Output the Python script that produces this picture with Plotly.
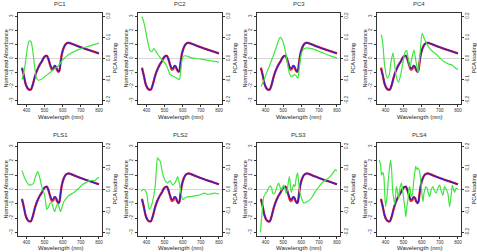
import plotly.graph_objects as go

W, H = 477, 252

titles = ["PC1", "PC2", "PC3", "PC4", "PLS1", "PLS2", "PLS3", "PLS4"]
x_ticks = [400, 500, 600, 700, 800]
left_ticks = [-3, -2, -1, 0, 1, 2, 3]
right_ticks = [-0.2, -0.1, 0.0, 0.1, 0.2]
right_tick_labels = ["-0.2", "-0.1", "0.0", "0.1", "0.2"]

wl_abs = [375, 385, 395, 405, 415, 425, 435, 445, 455, 465, 475, 485, 495, 505, 512, 520, 530, 540,
          548, 555, 562, 570, 577, 582, 588, 595, 605, 615, 625, 635, 650, 675, 700, 725, 750, 775, 800]
abs_blue = [-0.7, -1.2, -1.8, -2.1, -2.22, -2.2, -1.85, -1.35, -0.95, -0.65, -0.4, -0.2, 0.05, 0.18, 0.2,
            0.0, -0.4, -0.7, -0.65, -0.5, -0.55, -0.8, -0.95, -0.85, -0.3, 0.3, 0.75, 1.0, 1.1, 1.12, 1.05,
            0.92, 0.8, 0.68, 0.58, 0.47, 0.36]
abs_red = [-0.65, -1.2, -1.8, -2.1, -2.22, -2.2, -1.85, -1.35, -0.95, -0.65, -0.4, -0.2, 0.05, 0.18, 0.2,
           0.0, -0.45, -0.8, -0.75, -0.55, -0.6, -0.85, -0.95, -0.85, -0.3, 0.3, 0.75, 1.0, 1.1, 1.12, 1.05,
           0.92, 0.8, 0.68, 0.58, 0.47, 0.36]

wl_pc1 = [375, 385, 395, 405, 415, 425, 435, 445, 455, 465, 480, 500, 520, 540, 560, 580, 600, 620, 650, 700, 750, 800]
load_pc1 = [-0.100, -0.067, -0.013, 0.053, 0.083, 0.080, 0.033, -0.040, -0.093, -0.103, -0.100, -0.087,
            -0.073, -0.060, -0.047, -0.030, -0.007, 0.010, 0.027, 0.047, 0.060, 0.073]

wl_pc2 = [375, 385, 395, 405, 418, 430, 440, 450, 460, 470, 480, 490, 500, 510, 520, 530, 545, 560, 575, 582,
          588, 595, 603, 615, 650, 700, 750, 800]
load_pc2 = [0.200, 0.173, 0.133, 0.087, 0.040, 0.033, 0.047, 0.037, 0.023, 0.010, 0.0, -0.010, -0.020, -0.033,
            -0.053, -0.077, -0.083, -0.090, -0.097, -0.100, -0.067, -0.013, 0.010, 0.013, 0.003, -0.003,
            -0.010, -0.017]

wl_pc3 = [375, 390, 405, 420, 435, 450, 465, 475, 485, 495, 505, 515, 525, 535, 545, 555, 565, 575, 582, 590,
          600, 612, 627, 650, 680, 710, 740, 770, 800]
load_pc3 = [-0.133, -0.107, -0.073, -0.040, -0.007, 0.027, 0.063, 0.090, 0.100, 0.087, 0.060, 0.020, -0.033,
            -0.073, -0.087, -0.080, -0.077, -0.087, -0.093, -0.040, 0.020, 0.043, 0.050, 0.048, 0.041, 0.030,
            0.020, 0.010, 0.003]

wl_pc4 = [377, 385, 395, 409, 420, 430, 441, 450, 460, 472, 485, 500, 510, 517, 525, 535, 545, 557, 568, 580,
          590, 602, 612, 622, 640, 660, 680, 700, 720, 735, 750, 765, 780, 800]
load_pc4 = [0.113, 0.073, -0.033, -0.093, -0.080, -0.020, 0.027, -0.027, -0.087, -0.113, -0.073, 0.0, 0.033,
            0.038, 0.0, -0.040, 0.0, 0.040, -0.013, -0.067, 0.013, 0.120, 0.100, 0.080, 0.053, 0.033, 0.020,
            0.003, -0.013, -0.020, -0.027, -0.030, -0.040, -0.053]

wl_pls1 = [375, 390, 405, 418, 437, 450, 462, 472, 484, 495, 503, 512, 522, 531, 540, 548, 556, 564, 572, 580,
           588, 597, 606, 620, 635, 655, 672, 690, 710, 730, 747, 762, 775, 788, 800]
load_pls1 = [0.089, 0.053, 0.030, 0.020, 0.027, 0.060, 0.083, 0.060, 0.013, -0.013, -0.040, -0.093, -0.080,
             -0.063, -0.063, -0.087, -0.103, -0.080, -0.067, -0.080, -0.103, -0.080, -0.057, -0.040, -0.027,
             -0.017, -0.007, 0.007, 0.023, 0.033, 0.040, 0.043, 0.040, 0.050, 0.057]

wl_pls2 = [370, 383, 395, 402, 415, 425, 433, 446, 455, 461, 468, 476, 489, 500, 507, 517, 524, 531, 544, 553,
           563, 572, 581, 590, 600, 610, 618, 632, 646, 665, 683, 700, 720, 738, 757, 775, 794, 800]
load_pls2 = [-0.009, 0.0, -0.007, -0.023, -0.093, -0.080, -0.057, 0.0, 0.100, 0.147, 0.140, 0.130, 0.073,
             0.047, 0.037, 0.030, 0.037, 0.040, 0.020, 0.027, 0.040, 0.060, 0.030, -0.013, -0.047, -0.040,
             -0.037, -0.033, -0.033, -0.030, -0.027, -0.023, -0.017, -0.023, -0.020, -0.017, -0.020, -0.019]

wl_pls3 = [372, 380, 391, 400, 409, 418, 428, 435, 441, 450, 460, 467, 474, 481, 489, 495, 502, 508, 515, 521,
           527, 534, 540, 545, 552, 558, 565, 571, 576, 580, 586, 592, 602, 614, 625, 632, 650, 665, 679, 697,
           716, 735, 753, 772, 791, 800]
load_pls3 = [-0.200, -0.120, -0.033, -0.020, -0.010, 0.007, 0.017, 0.007, -0.017, -0.020, 0.0, 0.020, 0.030,
             0.013, -0.003, 0.007, 0.020, 0.007, -0.017, -0.007, 0.027, 0.060, 0.020, -0.013, 0.007, 0.023,
             0.013, 0.047, 0.067, 0.077, 0.033, -0.010, -0.040, -0.063, -0.060, -0.057, -0.047, -0.030,
             -0.010, 0.010, 0.030, 0.043, 0.053, 0.070, 0.091, 0.087]

wl_pls4 = [365, 372, 378, 385, 391, 400, 408, 415, 422, 428, 434, 439, 445, 451, 456, 460, 467, 473, 480, 488,
           495, 501, 507, 512, 518, 525, 530, 534, 542, 549, 556, 562, 567, 574, 580, 589, 598, 603, 607, 612,
           616, 622, 629, 637, 644, 653, 662, 671, 680, 690, 699, 708, 717, 726, 736, 745, 754, 762, 769, 776,
           782, 790, 800]
load_pls4 = [0.137, 0.120, 0.067, 0.080, 0.060, -0.080, -0.033, 0.037, 0.100, 0.137, 0.087, 0.0, -0.040,
             -0.070, -0.027, 0.013, -0.013, -0.040, 0.007, 0.030, -0.007, -0.047, -0.087, -0.127, -0.080,
             -0.040, 0.007, 0.013, -0.033, -0.020, 0.043, 0.080, 0.107, 0.093, 0.100, 0.080, 0.007, -0.033,
             -0.057, -0.020, -0.007, 0.013, 0.007, -0.020, -0.033, 0.0, 0.013, -0.007, -0.017, 0.007, 0.020,
             -0.007, -0.027, 0.013, 0.0, -0.020, -0.080, -0.033, 0.020, 0.0, -0.013, 0.007, 0.003]

loadings = [(wl_pc1, load_pc1), (wl_pc2, load_pc2), (wl_pc3, load_pc3), (wl_pc4, load_pc4),
            (wl_pls1, load_pls1), (wl_pls2, load_pls2), (wl_pls3, load_pls3), (wl_pls4, load_pls4)]

# layout geometry in pixels
col_px = [(18, 102), (138, 222), (257, 340), (377, 461)]
row_px = [(13, 104), (143, 236)]

GREEN = "#3ee63e"
FONT = "Liberation Sans, Arial, sans-serif"

fig = go.Figure()
layout = dict(width=W, height=H, margin=dict(l=0, r=0, t=0, b=0), paper_bgcolor="white",
              plot_bgcolor="white", showlegend=False, font=dict(family=FONT, color="#222"))
annotations = []
shapes = []

for i in range(8):
    r, c = divmod(i, 4)
    x0, x1 = col_px[c]
    y0, y1 = row_px[r]
    xd = [x0 / W, x1 / W]
    yd = [1 - y1 / H, 1 - y0 / H]
    xn = f"x{i+1}" if i else "x"
    yl = f"y{2*i+1}" if i else "y"
    yr = f"y{2*i+2}"
    xkey = f"xaxis{i+1}" if i else "xaxis"
    ylkey = f"yaxis{2*i+1}" if i else "yaxis"
    yrkey = f"yaxis{2*i+2}"

    axcommon = dict(showgrid=False, zeroline=False, ticks="outside", ticklen=2, tickwidth=0.6,
                    tickcolor="#333", tickfont=dict(size=4.5, color="#333"))
    layout[xkey] = dict(domain=xd, anchor=yl, range=[353, 817], tickvals=x_ticks,
                        showline=True, mirror=True, linecolor="#333", linewidth=0.7, **axcommon)
    layout[ylkey] = dict(domain=yd, anchor=xn, range=[-3.24, 3.24], tickvals=left_ticks,
                         tickangle=-90, showline=True, mirror=True, linecolor="#333", linewidth=0.7,
                         **axcommon)
    layout[yrkey] = dict(overlaying=yl, side="right", anchor=xn, range=[-0.216, 0.216],
                         tickvals=right_ticks, ticktext=right_tick_labels, tickangle=-90,
                         showline=False, **axcommon)

    shapes.append(dict(type="line", xref=f"{xn} domain", yref=yl, x0=0, x1=1, y0=0, y1=0,
                       line=dict(color="#cccccc", width=0.8), layer="below"))

    wl, ld = loadings[i]
    fig.add_trace(go.Scatter(x=wl, y=ld, xaxis=xn, yaxis=yr, mode="lines",
                             line=dict(color=GREEN, width=1.2, shape="spline", smoothing=0.6)))
    fig.add_trace(go.Scatter(x=wl_abs, y=abs_red, xaxis=xn, yaxis=yl, mode="lines",
                             line=dict(color="#ff2a2a", width=2.3, shape="spline", smoothing=0.6)))
    fig.add_trace(go.Scatter(x=wl_abs, y=abs_blue, xaxis=xn, yaxis=yl, mode="lines", opacity=0.9,
                             line=dict(color="#2a1fc8", width=1.5, shape="spline", smoothing=0.6)))

    cx = (x0 + x1) / 2
    title_y = 4 if r == 0 else 135
    annotations.append(dict(text=titles[i], x=cx / W, y=1 - title_y / H, xref="paper", yref="paper",
                            showarrow=False, font=dict(size=6, color="#333"),
                            xanchor="center", yanchor="middle"))
    xlab_y = y1 + 13 if r == 0 else y1 + 12
    annotations.append(dict(text="Wavelength (nm)", x=cx / W, y=1 - xlab_y / H, xref="paper",
                            yref="paper", showarrow=False, font=dict(size=6, color="#222"),
                            xanchor="center", yanchor="middle"))
    cy = (y0 + y1) / 2
    annotations.append(dict(text="Normalized Absorbance", x=(x0 - 13) / W, y=1 - cy / H, xref="paper",
                            yref="paper", showarrow=False, textangle=-90,
                            font=dict(size=5.5, color="#222"), xanchor="center", yanchor="middle"))
    annotations.append(dict(text="PCA loading", x=(x1 + 12) / W, y=1 - cy / H, xref="paper",
                            yref="paper", showarrow=False, textangle=-90,
                            font=dict(size=5.5, color="#222"), xanchor="center", yanchor="middle"))

layout["annotations"] = annotations
layout["shapes"] = shapes
fig.update_layout(**layout)
fig.write_html("out.html")
